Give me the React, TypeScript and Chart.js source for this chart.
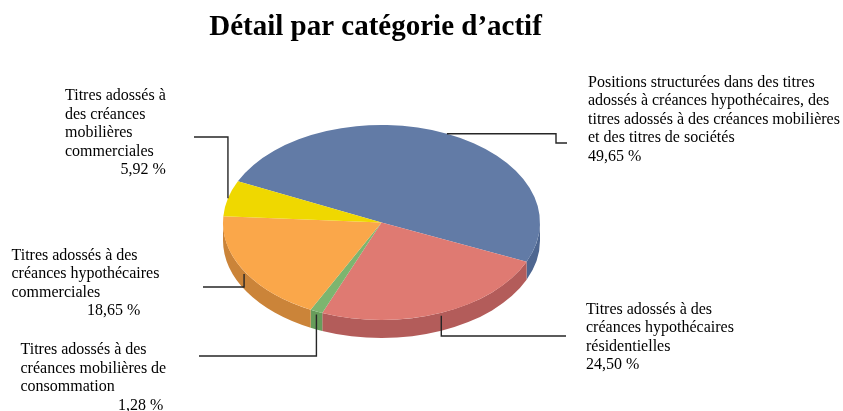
import { useEffect, useRef } from "react";
import { Chart, registerables } from "chart.js";

Chart.register(...registerables);

// ---------- data ----------
const TITLE = "Détail par catégorie d’actif";

const CATEGORIES = [
  "Positions structurées dans des titres adossés à créances hypothécaires, des titres adossés à des créances mobilières et des titres de sociétés",
  "Titres adossés à des créances hypothécaires résidentielles",
  "Titres adossés à des créances mobilières de consommation",
  "Titres adossés à des créances hypothécaires commerciales",
  "Titres adossés à des créances mobilières commerciales",
];

const LABEL_LINES = [
  [
    "Positions structurées dans des titres",
    "adossés à créances hypothécaires, des",
    "titres adossés à des créances mobilières",
    "et des titres de sociétés",
  ],
  ["Titres adossés à des", "créances hypothécaires", "résidentielles"],
  ["Titres adossés à des", "créances mobilières de", "consommation"],
  ["Titres adossés à des", "créances hypothécaires", "commerciales"],
  ["Titres adossés à", "des créances", "mobilières", "commerciales"],
];

const VALUES = [49.65, 24.5, 1.28, 18.65, 5.92];

const TOP_COLORS = ["#627BA6", "#DF7A72", "#7DB56F", "#FAA74A", "#EFD800"];
const SIDE_COLORS = ["#4E6690", "#B35C5A", "#679C5B", "#CB8439", "#C9B400"];

// ---------- layout (positions / styles) ----------
const ROTATION_DEG = -65;
const RADIUS = 158.5;
const TILT = 97.5 / 158.5;
const DEPTH = 18;
const LINE_H = 18.5;
const LABEL_FONT = '16px "Liberation Serif", "Times New Roman", serif';
const TITLE_FONT = 'bold 29px "Liberation Serif", "Times New Roman", serif';

// x/y of first baseline, x of value line, elbow points (null = anchor coordinate)
const LABEL_LAYOUT: { x: number; y: number; vx: number; path: (number | null)[][] }[] = [
  { x: 588, y: 86.5, vx: 588, path: [[556, null], [556, 143], [567, 143]] },
  { x: 586, y: 313.5, vx: 586, path: [[null, 336], [566, 336]] },
  { x: 20.5, y: 354, vx: 118, path: [[null, 356], [199, 356]] },
  { x: 11.5, y: 259.5, vx: 87, path: [[null, 287], [203, 287]] },
  { x: 65, y: 100, vx: 120.5, path: [[null, 137], [194, 137]] },
];

const fmt = (v: number) => v.toFixed(2).replace(".", ",") + " %";

function geometry(chart: any) {
  const arcs = chart.getDatasetMeta(0).data as any[];
  if (!arcs.length) return null;
  const { x, y, outerRadius } = arcs[0];
  return { arcs, cx: x, cy: y, rx: outerRadius, ry: outerRadius * TILT };
}

const tiltPlugin = {
  id: "tilt3d",
  beforeDatasetsDraw(chart: any) {
    const g = geometry(chart);
    const ctx = chart.ctx;
    ctx.save();
    if (!g) return;
    const { arcs, cx, cy, rx, ry } = g;
    arcs.forEach((arc: any, i: number) => {
      const a1 = arc.startAngle;
      const a2 = arc.endAngle;
      for (let k = -2; k <= 2; k++) {
        const lo = Math.max(a1, 2 * Math.PI * k);
        const hi = Math.min(a2, 2 * Math.PI * k + Math.PI);
        if (hi > lo) {
          ctx.beginPath();
          ctx.ellipse(cx, cy, rx, ry, 0, lo, hi, false);
          ctx.ellipse(cx, cy + DEPTH, rx, ry, 0, hi, lo, true);
          ctx.closePath();
          ctx.fillStyle = SIDE_COLORS[i];
          ctx.fill();
        }
      }
    });
    ctx.translate(cx, cy);
    ctx.scale(1, TILT);
    ctx.translate(-cx, -cy);
  },
  afterDatasetsDraw(chart: any) {
    chart.ctx.restore();
  },
};

const labelPlugin = {
  id: "labels3d",
  afterDraw(chart: any) {
    const ctx = chart.ctx;
    ctx.save();
    ctx.fillStyle = "#000";
    ctx.textAlign = "center";
    ctx.textBaseline = "alphabetic";
    ctx.font = TITLE_FONT;
    ctx.fillText(TITLE, 375.5, 35);

    const g = geometry(chart);
    if (g) {
      const { arcs, cx, cy, rx, ry } = g;
      ctx.strokeStyle = "#262626";
      ctx.lineWidth = 1.4;
      arcs.forEach((arc: any, i: number) => {
        const mid = (arc.startAngle + arc.endAngle) / 2;
        const s = Math.sin(mid);
        const ax = cx + rx * Math.cos(mid);
        const ay = cy + ry * s + (s > 0 ? 3 : 0);
        const lay = LABEL_LAYOUT[i];
        ctx.beginPath();
        ctx.moveTo(ax, ay);
        lay.path.forEach((p) => {
          ctx.lineTo(p[0] == null ? ax : p[0], p[1] == null ? ay : p[1]);
        });
        ctx.stroke();

        ctx.font = LABEL_FONT;
        ctx.textAlign = "left";
        const lines = LABEL_LINES[i];
        lines.forEach((t, j) => ctx.fillText(t, lay.x, lay.y + j * LINE_H));
        ctx.fillText(fmt(VALUES[i]), lay.vx, lay.y + lines.length * LINE_H);
      });
    }
    ctx.restore();
  },
};

export default function App() {
  const ref = useRef<HTMLCanvasElement | null>(null);
  useEffect(() => {
    if (!ref.current) return;
    const chart = new Chart(ref.current, {
      type: "pie",
      data: {
        labels: CATEGORIES,
        datasets: [
          {
            data: VALUES,
            backgroundColor: TOP_COLORS,
            borderWidth: 0,
            radius: RADIUS,
            clip: false,
          } as any,
        ],
      },
      options: {
        responsive: false,
        animation: false,
        events: [],
        rotation: ROTATION_DEG,
        radius: RADIUS,
        layout: { padding: { left: 0, right: 80, top: 34, bottom: 0 } },
        plugins: {
          legend: { display: false },
          tooltip: { enabled: false },
          title: { display: false },
        },
      } as any,
      plugins: [tiltPlugin, labelPlugin],
    });
    return () => chart.destroy();
  }, []);
  return (
    <div style={{ position: "absolute", left: 0, top: 0, width: 843, height: 411, background: "#fff" }}>
      <canvas ref={ref} width={843} height={411} style={{ display: "block" }} />
    </div>
  );
}
